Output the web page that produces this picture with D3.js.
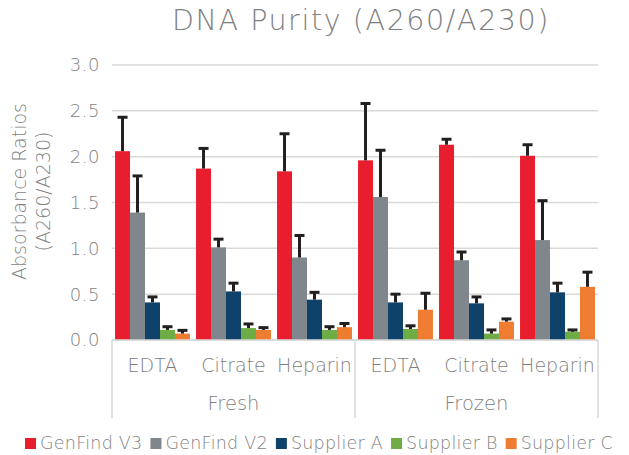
<!DOCTYPE html>
<html lang="en">
<head>
    <meta charset="UTF-8">
    <title>DNA Purity (A260/A230)</title>
    <script src="https://d3js.org/d3.v7.min.js"></script>
    <style>
        body { margin: 0; background: #fff; }
        text { font-family: "DejaVu Sans", sans-serif; font-weight: 200; fill: #7f7f7f; }
    </style>
</head>
<body>
    <div id="chart"></div>
    <script>

// data
var groups = ['Fresh', 'Frozen'];
var types = ['EDTA', 'Citrate', 'Heparin'];
var series = ['GenFind V3', 'GenFind V2', 'Supplier A', 'Supplier B', 'Supplier C'];
var colors = ['#e81e2e', '#7f868c', '#0e426a', '#6ead45', '#ee7d31'];

// values per category (Fresh EDTA, Fresh Citrate, Fresh Heparin, Frozen EDTA, Frozen Citrate, Frozen Heparin)
var genFindV3 = [2.06, 1.87, 1.84, 1.96, 2.13, 2.01];
var genFindV2 = [1.39, 1.01, 0.90, 1.56, 0.87, 1.09];
var supplierA = [0.41, 0.53, 0.44, 0.41, 0.40, 0.52];
var supplierB = [0.11, 0.13, 0.11, 0.12, 0.07, 0.09];
var supplierC = [0.07, 0.11, 0.14, 0.33, 0.20, 0.58];

// upper error (sd)
var errV3 = [0.37, 0.22, 0.41, 0.62, 0.06, 0.12];
var errV2 = [0.40, 0.09, 0.24, 0.51, 0.09, 0.43];
var errA  = [0.06, 0.09, 0.08, 0.09, 0.07, 0.10];
var errB  = [0.035, 0.045, 0.035, 0.035, 0.04, 0.02];
var errC  = [0.035, 0.025, 0.04, 0.18, 0.03, 0.16];

var yTicks = [0, 0.5, 1.0, 1.5, 2.0, 2.5, 3.0];

var values = [genFindV3, genFindV2, supplierA, supplierB, supplierC];
var errors = [errV3, errV2, errA, errB, errC];

var width = 629, height = 455;
var margin = {top: 65, left: 112, right: 31, bottom: 115};

var categories = [];
groups.forEach(function(g) {
    types.forEach(function(t) { categories.push(g + '|' + t); });
});

var rows = [];
series.forEach(function(s, si) {
    categories.forEach(function(c, ci) {
        rows.push({series: s, si: si, cat: c, value: values[si][ci], err: errors[si][ci]});
    });
});

var svg = d3.select('#chart').append('svg')
    .attr('width', width)
    .attr('height', height);

var x0 = d3.scaleBand()
    .domain(categories)
    .range([margin.left, width - margin.right])
    .paddingInner(0.075)
    .paddingOuter(0.0375);

var x1 = d3.scaleBand()
    .domain(series)
    .range([0, x0.bandwidth()]);

var y = d3.scaleLinear()
    .domain([0, 3])
    .range([height - margin.bottom, margin.top]);

// gridlines
svg.append('g')
    .selectAll('line')
    .data(yTicks)
    .enter().append('line')
    .attr('x1', margin.left)
    .attr('x2', width - margin.right)
    .attr('y1', function(d) { return y(d); })
    .attr('y2', function(d) { return y(d); })
    .attr('stroke', '#d9d9d9')
    .attr('stroke-width', 1.5);

// y axis labels
svg.append('g')
    .selectAll('text')
    .data(yTicks)
    .enter().append('text')
    .attr('x', margin.left - 12)
    .attr('y', function(d) { return y(d); })
    .attr('dy', '0.36em')
    .attr('text-anchor', 'end')
    .style('font-size', '18px')
    .style('letter-spacing', '0.5px')
    .text(function(d) { return d3.format('.1f')(d); });

// y axis title
var yt = svg.append('text')
    .attr('transform', 'translate(32,' + y(1.62) + ') rotate(-90)')
    .attr('text-anchor', 'middle')
    .style('font-size', '19px');
yt.append('tspan').attr('x', 0).attr('dy', '-0.3em').text('Absorbance Ratios');
yt.append('tspan').attr('x', 0).attr('dy', '1.25em').text('(A260/A230)');

// bars
svg.append('g')
    .selectAll('rect')
    .data(rows)
    .enter().append('rect')
    .attr('x', function(d) { return x0(d.cat) + x1(d.series); })
    .attr('y', function(d) { return y(d.value); })
    .attr('width', x1.bandwidth())
    .attr('height', function(d) { return y(0) - y(d.value); })
    .attr('fill', function(d) { return colors[d.si]; });

// error bars
var eb = svg.append('g')
    .selectAll('g')
    .data(rows)
    .enter().append('g');

eb.append('line')
    .attr('x1', function(d) { return x0(d.cat) + x1(d.series) + x1.bandwidth() / 2; })
    .attr('x2', function(d) { return x0(d.cat) + x1(d.series) + x1.bandwidth() / 2; })
    .attr('y1', function(d) { return y(d.value); })
    .attr('y2', function(d) { return y(d.value + d.err); })
    .attr('stroke', '#231f20')
    .attr('stroke-width', 3);

eb.append('line')
    .attr('x1', function(d) { return x0(d.cat) + x1(d.series) + x1.bandwidth() / 2 - 5; })
    .attr('x2', function(d) { return x0(d.cat) + x1(d.series) + x1.bandwidth() / 2 + 5; })
    .attr('y1', function(d) { return y(d.value + d.err); })
    .attr('y2', function(d) { return y(d.value + d.err); })
    .attr('stroke', '#231f20')
    .attr('stroke-width', 3);

// category axis
var base = y(0);
var axisG = svg.append('g');
axisG.append('line')
    .attr('x1', margin.left).attr('x2', width - margin.right)
    .attr('y1', base).attr('y2', base)
    .attr('stroke', '#d9d9d9').attr('stroke-width', 1.5);

var groupW = (width - margin.right - margin.left) / groups.length;
var seps = d3.range(groups.length + 1).map(function(i) { return margin.left + i * groupW; });
axisG.selectAll('line.sep')
    .data(seps)
    .enter().append('line')
    .attr('class', 'sep')
    .attr('x1', function(d) { return d; })
    .attr('x2', function(d) { return d; })
    .attr('y1', base)
    .attr('y2', base + 78)
    .attr('stroke', '#d9d9d9')
    .attr('stroke-width', 1.5);

axisG.selectAll('text.cat')
    .data(categories)
    .enter().append('text')
    .attr('class', 'cat')
    .attr('x', function(d) { return x0(d) + x0.bandwidth() / 2; })
    .attr('y', base + 32)
    .attr('text-anchor', 'middle')
    .style('font-size', '19px')
    .text(function(d) { return d.split('|')[1]; });

axisG.selectAll('text.grp')
    .data(groups)
    .enter().append('text')
    .attr('class', 'grp')
    .attr('x', function(d, i) { return margin.left + (i + 0.5) * groupW; })
    .attr('y', base + 70)
    .attr('text-anchor', 'middle')
    .style('font-size', '19.5px')
    .text(function(d) { return d; });

// title
svg.append('text')
    .attr('x', 361)
    .attr('y', 30)
    .attr('text-anchor', 'middle')
    .style('font-size', '28.5px')
    .style('letter-spacing', '1.6px')
    .text('DNA Purity (A260/A230)');

// legend
var legend = svg.append('g');
var lx = 25;
series.forEach(function(s, i) {
    legend.append('rect')
        .attr('x', lx).attr('y', 438)
        .attr('width', 11).attr('height', 11)
        .attr('fill', colors[i]);
    var t = legend.append('text')
        .attr('x', lx + 15).attr('y', 449)
        .style('font-size', '17.5px')
        .style('letter-spacing', '0.25px')
        .text(s);
    lx += 15 + t.node().getComputedTextLength() + 8;
});

    </script>
</body>
</html>
